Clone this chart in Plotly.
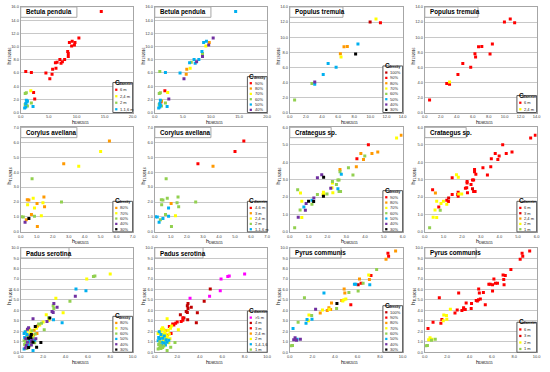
import plotly.graph_objects as go

# ---------------- data ----------------
betula_x = [14.4, 10.4, 8.7, 9.2, 9.7, 9.1, 9.6, 8.4, 8.5, 8.5, 7.0, 7.85, 7.45, 7.2, 6.2, 6.5, 6.3, 5.7, 5.6, 5.2,
            4.5, 0.9, 1.9, 2.3, 1.8, 0.8, 1.0, 2.5, 1.0, 1.2, 1.1, 0.9, 0.8, 1.0, 1.2, 1.9, 0.7, 0.9, 2.2]
betula_y = [15.3, 11.3, 10.6, 10.8, 10.6, 10.1, 10.25, 9.25, 8.95, 8.5, 8.05, 8.05, 7.7, 7.45, 7.55, 7.6, 6.7, 6.55, 5.8, 5.1,
            6.0, 6.2, 6.05, 3.05, 3.3, 2.9, 3.0, 2.05, 1.85, 1.75, 1.6, 1.35, 1.2, 1.05, 1.0, 1.45, 0.7, 0.85, 0.9]
betula_diam = ["6 m"] * 24 + ["2,4 m", "2 m", "2 m", "6 m", "1-1,6 m", "1-1,6 m", "1-1,6 m", "1-1,6 m",
                              "2 m", "2 m", "2 m", "2 m", "1-1,6 m", "1-1,6 m", "1-1,6 m"]
betula_dens = ["50%", "40%", "50%", "50%", "80%", "70%", "40%", "50%", "60%", "40%", "50%", "50%", "40%", "50%", "50%",
               "60%", "70%", "80%", "80%", "40%", "50%", "60%", "50%", "70%", "90%", "60%", "60%", "40%", "50%", "80%",
               "90%", "50%", "60%", "50%", "60%", "60%", "50%", "50%", "50%"]
betula_diam_classes = ["6 m", "2,4 m", "2 m", "1-1,6 m"]
betula_dens_classes = ["90%", "80%", "70%", "60%", "50%", "40%"]

populus_x = [9.97, 10.7, 11.25, 8.46, 8.17, 6.73, 7.14, 6.28, 6.36, 4.76, 5.75, 4.15, 3.1, 3.1, 2.75, 0.6]
populus_y = [12.0, 12.4, 11.9, 9.1, 7.75, 8.72, 8.77, 7.8, 7.36, 6.5, 6.0, 5.05, 4.05, 3.75, 3.85, 1.67]
populus_diam = ["6 m"] * 12 + ["2,4 m", "6 m", "6 m", "6 m"]
populus_dens = ["100%", "70%", "90%", "50%", "30%", "80%", "80%", "80%", "70%", "50%", "50%", "50%", "40%", "50%",
                "60%", "60%"]
populus_diam_classes = ["6 m", "2,4 m"]
populus_dens_classes = ["100%", "90%", "80%", "70%", "60%", "50%", "40%", "30%"]

corylus_x = [5.55, 5.0, 2.69, 3.63, 0.71, 2.55, 1.45, 0.41, 0.51, 0.78, 1.39, 1.02, 0.43, 0.86, 1.49, 0.67, 0.86,
             1.29, 0.04, 0.16, 0.35, 0.51, 0.27, 1.04]
corylus_y = [6.09, 5.38, 4.56, 4.4, 3.56, 2.0, 2.33, 2.15, 2.13, 2.25, 1.95, 1.9, 1.82, 1.6, 1.68, 1.16, 1.05,
             1.08, 1.02, 1.0, 0.82, 0.9, 0.65, 0.36]
corylus_diam = ["4-6 m", "4-6 m", "4-6 m", "3 m", "2 m", "2 m", "2 m", "2 m", "2 m", "2 m", "2 m", "3 m", "2 m",
                "1-1,6 m", "2 m", "2 m", "1-1,6 m", "2,4 m", "1-1,6 m", "1-1,6 m", "2 m", "1-1,6 m", "1-1,6 m", "2 m"]
corylus_dens = ["80%", "70%", "80%", "70%", "60%", "60%", "80%", "80%", "80%", "70%", "70%", "80%", "70%", "70%",
                "80%", "80%", "60%", "70%", "60%", "60%", "80%", "30%", "40%", "80%"]
corylus_diam_classes = ["4-6 m", "3 m", "2,4 m", "2 m", "1-1,6 m"]
corylus_dens_classes = ["80%", "70%", "60%", "40%", "30%"]

crataegus_x = [5.93, 5.68, 4.18, 4.68, 4.37, 3.78, 3.99, 3.92, 3.57, 3.54, 3.12, 3.36, 2.67, 2.67, 2.74, 1.7, 1.8,
               1.47, 2.56, 2.62, 2.27, 2.27, 2.48, 2.18, 2.25, 2.56, 2.62, 2.7, 2.29, 1.98, 1.82, 1.77, 1.79, 1.79,
               1.47, 0.42, 0.57, 1.28, 1.18, 1.0, 1.27, 1.18, 0.87, 0.75, 0.83, 0.55, 0.64, 0.45, 0.64, 0.26]
crataegus_y = [5.55, 5.38, 5.0, 4.58, 4.5, 4.5, 4.35, 4.16, 4.2, 3.73, 3.68, 3.26, 3.58, 3.45, 3.3, 3.28, 3.13,
               3.1, 2.98, 2.98, 2.89, 2.81, 2.72, 2.51, 2.53, 2.48, 2.31, 2.31, 2.25, 2.18, 2.18, 2.14, 2.04, 2.27,
               2.14, 2.42, 2.23, 1.95, 1.82, 1.76, 1.74, 1.58, 1.63, 1.43, 1.24, 1.26, 1.76, 0.84, 0.83, 0.24]
crataegus_diam = ["6 m"] * 15 + ["2 m", "2 m"] + ["6 m"] * 8 + ["3 m", "6 m", "6 m", "6 m", "2 m", "2 m", "6 m",
                  "6 m", "6 m", "6 m", "6 m", "2,4 m", "3 m", "6 m", "2 m", "6 m", "2 m", "2 m", "6 m", "1 m",
                  "2 m", "2 m", "2 m", "2 m", "1 m"]
crataegus_dens = ["80%", "70%", "90%", "80%", "80%", "80%", "60%", "80%", "90%", "80%", "60%", "60%", "80%", "60%",
                  "50%", "40%", "30%", "40%", "60%", "60%", "60%", "70%", "60%", "40%", "70%", "50%", "60%", "60%",
                  "70%", "60%", "70%", "70%", "30%", "70%", "60%", "60%", "70%", "40%", "50%", "30%", "30%", "60%",
                  "40%", "50%", "40%", "60%", "70%", "40%", "70%", "60%"]
crataegus_diam_classes = ["6 m", "3 m", "2,4 m", "2 m", "1 m"]
crataegus_dens_classes = ["90%", "80%", "70%", "60%", "50%", "40%", "30%"]

padus_x = [8.0, 6.63, 6.5, 5.9, 4.94, 5.83, 4.88, 3.14, 4.4, 2.96, 3.25, 2.9, 2.96, 2.8, 2.9, 3.79, 2.28, 2.6, 2.5,
           2.5, 2.93, 3.7, 2.35, 1.1, 1.86, 2.0, 2.1, 1.7, 1.5, 1.3, 1.4, 1.6, 1.8, 1.42, 1.1,
           0.4, 0.3, 0.5, 0.6, 0.7, 0.8, 0.9, 1.0, 1.2, 0.55, 0.65, 0.75, 0.85, 0.95, 1.05, 1.15, 1.3, 1.45,
           0.35, 0.45, 0.55, 0.7, 0.8, 0.9, 1.0, 1.1, 1.25, 1.35, 0.3, 0.45, 0.6, 0.75, 0.85, 0.95, 1.1, 1.25,
           0.35, 0.5, 0.65, 0.8, 0.95, 0.4, 0.55, 0.3, 0.7]
padus_y = [7.48, 7.3, 7.25, 7.0, 6.04, 5.88, 5.35, 5.16, 4.87, 4.65, 4.31, 4.45, 4.18, 3.9, 3.8, 3.77, 3.58, 3.27,
           3.3, 3.05, 3.1, 2.83, 2.95, 3.2, 2.77, 2.9, 2.14, 2.6, 2.5, 2.45, 2.3, 2.7, 0.94, 0.47, 0.16,
           1.95, 1.8, 2.0, 2.2, 2.35, 2.2, 1.95, 2.05, 2.1, 1.7, 1.6, 1.75, 1.55, 1.7, 1.5, 1.65, 1.75, 1.8,
           1.4, 1.3, 1.45, 1.35, 1.25, 1.4, 1.2, 1.35, 1.15, 1.3, 1.1, 1.0, 0.95, 1.05, 0.9, 1.0, 0.95, 0.9,
           0.75, 0.65, 0.7, 0.6, 0.7, 0.4, 0.35, 0.3, 0.45]
padus_diam = [">5 m", ">5 m", ">5 m", ">5 m", "4 m", ">5 m", ">5 m", ">5 m", "4 m", "4 m", "4 m", "4 m", "4 m",
              "4 m", "4 m", "4 m", "4 m", "4 m", "3 m", "3 m", "4 m", "4 m", "3 m", "2 m", "3 m", "3 m", "2 m",
              "3 m", "2 m", "3 m", "2 m", "3 m", "1 m", "1 m", "1 m",
              "1,4-1,6", "2 m", "2 m", "2 m", "2 m", "2 m", "2 m", "2,4 m", "2 m", "1,4-1,6", "2 m", "2 m",
              "1,4-1,6", "2 m", "2 m", "2,4 m", "2 m", "3 m",
              "1,4-1,6", "1,4-1,6", "2 m", "1,4-1,6", "2 m", "2 m", "1,4-1,6", "2 m", "1,4-1,6", "2 m",
              "1,4-1,6", "1 m", "1,4-1,6", "2 m", "1,4-1,6", "2 m", "1,4-1,6", "2 m",
              "1 m", "1 m", "1,4-1,6", "1 m", "1,4-1,6", "1 m", "1 m", "1 m", "1 m"]
padus_dens = ["70%", "60%", "60%", "70%", "50%", "50%", "40%", "70%", "60%", "40%", "40%", "60%", "60%", "40%",
              "40%", "70%", "70%", "30%", "60%", "70%", "50%", "50%", "40%", "40%", "60%", "70%", "60%", "70%",
              "80%", "30%", "70%", "60%", "30%", "30%", "50%",
              "50%", "50%", "70%", "40%", "40%", "70%", "70%", "60%", "80%", "50%", "60%", "70%", "40%", "30%",
              "70%", "80%", "60%", "80%",
              "50%", "40%", "60%", "30%", "50%", "30%", "40%", "60%", "50%", "40%", "60%", "60%", "40%", "50%",
              "60%", "40%", "30%", "60%",
              "60%", "40%", "50%", "60%", "40%", "40%", "60%", "50%", "30%"]
padus_diam_classes = [">5 m", "4 m", "3 m", "2,4 m", "2 m", "1,4-1,6", "1 m"]
padus_dens_classes = ["80%", "70%", "60%", "50%", "40%", "30%"]

pyrus_x = [9.38, 8.7, 8.76, 8.53, 7.7, 7.0, 7.2, 7.06, 7.09, 6.18, 6.32, 6.5, 6.06, 5.73, 5.85, 4.82, 4.88, 6.06,
           5.24, 3.03, 1.3, 4.97, 4.8, 4.6, 4.7, 5.41, 3.7, 4.18, 3.47, 3.32, 3.62, 3.5, 2.9, 4.15, 2.29, 2.7,
           1.7, 1.94, 1.53, 1.97, 1.44, 1.65, 0.74, 0.29, 0.47, 0.65, 0.94, 0.35, 0.6, 0.24, 0.1]
pyrus_y = [9.69, 9.47, 9.18, 8.9, 7.92, 7.39, 7.33, 6.95, 6.45, 7.0, 6.6, 6.6, 6.45, 6.5, 6.5, 6.04, 5.66, 5.85,
           5.72, 5.66, 5.22, 5.09, 5.03, 4.95, 4.9, 4.53, 4.72, 4.65, 4.25, 4.0, 4.09, 4.1, 4.05, 4.18, 4.12, 3.75,
           3.55, 3.52, 3.14, 3.15, 2.78, 3.0, 2.88, 2.28, 1.38, 1.25, 1.25, 1.2, 1.15, 0.65, 0.62]
pyrus_diam = ["6 m"] * 34 + ["2 m", "6 m", "2 m", "2 m", "6 m", "2 m", "6 m", "2 m", "6 m", "6 m", "2 m", "2 m",
                             "1 m", "2 m", "1 m", "1 m", "1 m"]
pyrus_dens = ["80%", "90%", "90%", "80%", "60%", "70%", "90%", "80%", "50%", "80%", "90%", "60%", "100%", "50%",
              "50%", "80%", "80%", "60%", "60%", "50%", "60%", "70%", "70%", "80%", "70%", "90%", "80%", "30%",
              "80%", "80%", "80%", "70%", "70%", "60%", "40%", "80%", "70%", "60%", "50%", "50%", "50%", "70%",
              "60%", "50%", "40%", "50%", "40%", "40%", "40%", "60%", "60%"]
pyrus_diam_classes = ["6 m", "3 m", "2 m", "1 m"]
pyrus_dens_classes = ["100%", "90%", "80%", "70%", "60%", "50%", "40%", "30%"]

species_names = ["Betula pendula", "Populus tremula", "Corylus avellana", "Crataegus sp.", "Padus serotina",
                 "Pyrus communis"]
axis_letter = "h"
x_axis_sub = "DMI2015"
y_axis_sub = "TLS2016"
legend_letter = "C"
legend_subs = {"diam": "diameter", "dens": "density"}

# ---------------- styles ----------------
RED, DRED, ORANGE, YELLOW, GREEN, BLUE, PURPLE, BLACK, MAGENTA = (
    "#FF0000", "#C00000", "#FF9900", "#FFFF00", "#92D050", "#00B0F0", "#7030A0", "#000000", "#FF00FF")
dens_colors = {"100%": DRED, "90%": RED, "80%": ORANGE, "70%": YELLOW, "60%": GREEN, "50%": BLUE,
               "40%": PURPLE, "30%": BLACK}
diam_colors = {
    "betula": {"6 m": RED, "2,4 m": YELLOW, "2 m": GREEN, "1-1,6 m": BLUE},
    "populus": {"6 m": RED, "2,4 m": YELLOW},
    "corylus": {"4-6 m": RED, "3 m": ORANGE, "2,4 m": YELLOW, "2 m": GREEN, "1-1,6 m": BLUE},
    "crataegus": {"6 m": RED, "3 m": "#E00000", "2,4 m": ORANGE, "2 m": YELLOW, "1 m": GREEN},
    "padus": {">5 m": MAGENTA, "4 m": DRED, "3 m": RED, "2,4 m": ORANGE, "2 m": YELLOW, "1,4-1,6": BLUE,
              "1 m": GREEN},
    "pyrus": {"6 m": RED, "3 m": "#E00000", "2 m": YELLOW, "1 m": GREEN},
}

data = {
    "betula": (betula_x, betula_y, betula_diam, betula_dens, betula_diam_classes, betula_dens_classes,
               species_names[0], 20, 5, 16, 2, 57),
    "populus": (populus_x, populus_y, populus_diam, populus_dens, populus_diam_classes, populus_dens_classes,
                species_names[1], 14, 2, 14, 2, 54),
    "corylus": (corylus_x, corylus_y, corylus_diam, corylus_dens, corylus_diam_classes, corylus_dens_classes,
                species_names[2], 7, 1, 7, 1, 57),
    "crataegus": (crataegus_x, crataegus_y, crataegus_diam, crataegus_dens, crataegus_diam_classes,
                  crataegus_dens_classes, species_names[3], 6, 1, 6, 1, 42),
    "padus": (padus_x, padus_y, padus_diam, padus_dens, padus_diam_classes, padus_dens_classes,
              species_names[4], 10, 2, 10, 1, 49),
    "pyrus": (pyrus_x, pyrus_y, pyrus_diam, pyrus_dens, pyrus_diam_classes, pyrus_dens_classes,
              species_names[5], 10, 2, 10, 1, 52),
}

panels = [
    (0, 0, "betula", "diam"), (0, 1, "betula", "dens"), (0, 2, "populus", "dens"), (0, 3, "populus", "diam"),
    (1, 0, "corylus", "dens"), (1, 1, "corylus", "diam"), (1, 2, "crataegus", "dens"), (1, 3, "crataegus", "diam"),
    (2, 0, "padus", "dens"), (2, 1, "padus", "diam"), (2, 2, "pyrus", "dens"), (2, 3, "pyrus", "diam"),
]

W, H = 550, 372
COLS = [(18, 131.5), (154, 268), (291, 405.5), (428, 541.5)]
ROWS = [(4, 111), (126, 232), (248, 354)]
FONT = "Liberation Sans"
TICK_SIZE = 4
LEG_SIZE = 4


def px(x):
    return x / W


def py(y):
    return 1 - y / H


def text(t, x, y, size, xa="left", ya="middle", angle=0, bold=False, color="#000000"):
    return dict(text=t, xref="paper", yref="paper", x=px(x), y=py(y), xanchor=xa, yanchor=ya,
                showarrow=False, textangle=angle,
                font=dict(size=size, color=color, family=FONT, weight="bold" if bold else "normal"))


fig = go.Figure()
annotations = []
shapes = []

for k, (r, c, sp, mode) in enumerate(panels, start=1):
    xs, ys, diam, dens, diam_cls, dens_cls, name, xmax, xd, ymax, yd, title_w = data[sp]
    x0, x1 = COLS[c]
    y0, y1 = ROWS[r]
    xa = "x" if k == 1 else f"x{k}"
    ya = "y" if k == 1 else f"y{k}"
    cls_list = diam if mode == "diam" else dens
    classes = diam_cls if mode == "diam" else dens_cls
    cmap = diam_colors[sp] if mode == "diam" else dens_colors
    for cl in classes:
        idx = [i for i, v in enumerate(cls_list) if v == cl]
        fig.add_trace(go.Scatter(
            x=[xs[i] for i in idx], y=[ys[i] for i in idx], mode="markers", xaxis=xa, yaxis=ya,
            marker=dict(symbol="square", size=3, color=cmap[cl], line=dict(width=0)),
            showlegend=False, hoverinfo="skip"))
    axis_common = dict(showline=True, mirror=True, linecolor="#A6A6A6", linewidth=1, zeroline=False,
                       ticks="", tickfont=dict(size=TICK_SIZE, color="#404040", family=FONT), tickformat=".1f")
    fig.layout[f"xaxis{'' if k == 1 else k}"] = dict(
        domain=[px(x0), px(x1)], range=[0, xmax], dtick=xd, tick0=0, anchor=ya, showgrid=False, **axis_common)
    fig.layout[f"yaxis{'' if k == 1 else k}"] = dict(
        domain=[py(y1), py(y0)], range=[0, ymax], dtick=yd, tick0=0, anchor=xa, showgrid=True,
        gridcolor="#C8C8C8", gridwidth=1, **axis_common)

    # title box
    shapes.append(dict(type="rect", xref="paper", yref="paper", x0=px(x0), x1=px(x0 + title_w),
                       y0=py(y0 + 10.5), y1=py(y0), fillcolor="white", line=dict(color="#A6A6A6", width=1)))
    annotations.append(text(name, x0 + 3, y0 + 5.5, 6.3, bold=True))
    # axis titles (letter + subscript)
    xc = (x0 + x1) / 2
    annotations.append(text(axis_letter, xc - 7, y1 + 9.5, 5.5, xa="left"))
    annotations.append(text(x_axis_sub, xc - 3.8, y1 + 11, 3.4, xa="left"))
    yc = (y0 + y1) / 2
    annotations.append(text(axis_letter, x0 - 11.5, yc + 7, 5.5, xa="center", ya="bottom", angle=-90))
    annotations.append(text(y_axis_sub, x0 - 10, yc + 3.8, 3.4, xa="center", ya="bottom", angle=-90))
    # legend box
    n = len(classes)
    s = 6.6 if n <= 4 else 5.4
    lx0, lx1 = x1 - 20, x1
    ltop = y1 - n * s - 4
    shapes.append(dict(type="rect", xref="paper", yref="paper", x0=px(lx0), x1=px(lx1), y0=py(y1), y1=py(ltop),
                       fillcolor="white", line=dict(color="#595959", width=1)))
    annotations.append(text(legend_letter, lx0, ltop - 0.5, 6.5, bold=True))
    annotations.append(text(legend_subs[mode], lx0 + 4.3, ltop + 1.2, 3.2, bold=True))
    for i, cl in enumerate(classes):
        cy = ltop + 4 + (i + 0.5) * s
        shapes.append(dict(type="rect", xref="paper", yref="paper", x0=px(lx0 + 2.3), x1=px(lx0 + 4.6),
                           y0=py(cy + 1.15), y1=py(cy - 1.15), fillcolor=cmap[cl], line=dict(width=0)))
        annotations.append(text(cl, lx0 + 5.5, cy, LEG_SIZE, color="#262626"))

fig.update_layout(width=W, height=H, margin=dict(l=0, r=0, t=0, b=0), paper_bgcolor="white",
                  plot_bgcolor="white", annotations=annotations, shapes=shapes,
                  font=dict(family=FONT))
fig.write_html("out.html", config={"displayModeBar": False},
               post_script="document.body.style.margin='0';document.body.style.overflow='hidden';")
